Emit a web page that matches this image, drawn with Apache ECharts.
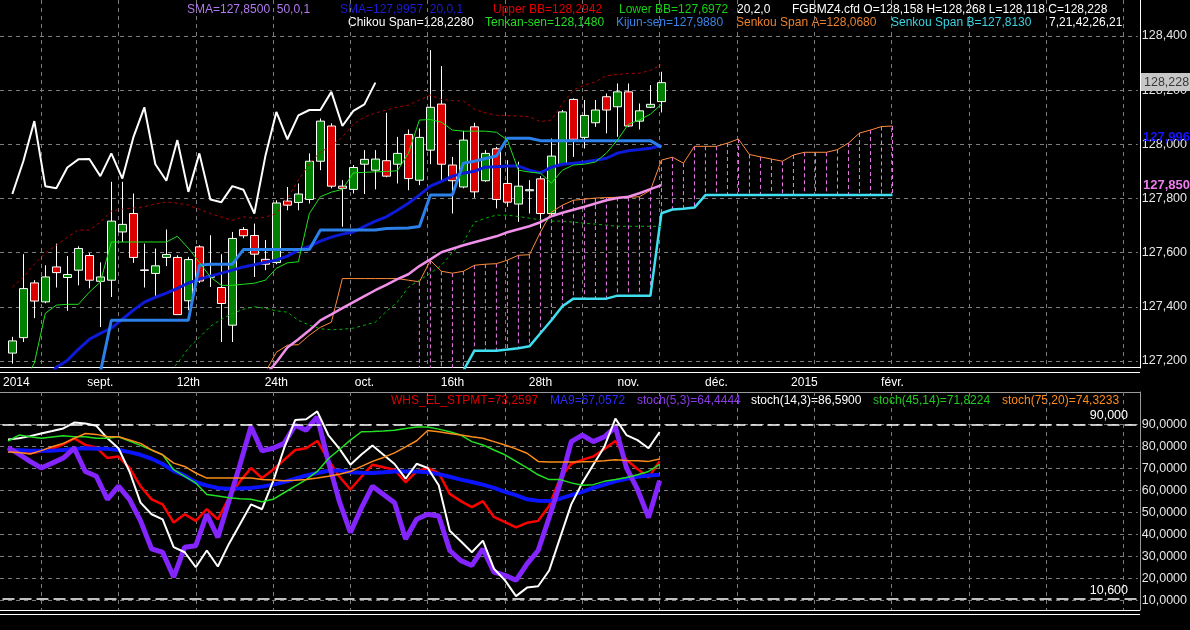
<!DOCTYPE html>
<html><head><meta charset="utf-8">
<script src="https://cdn.jsdelivr.net/npm/echarts@6.0.0/dist/echarts.min.js"></script>
<style>html,body{margin:0;padding:0;background:#000;}#c{width:1190px;height:630px;}</style>
</head><body><div id="c"></div>
<script>
// ---------------- DATA ----------------
const categories = Array.from({length: 103}, (_, i) => String(i + 1));
const tickIndex = [0, 8, 16, 24, 32, 40, 48, 56, 64, 72, 80];
const tickText = ['2014', 'sept.', '12th', '24th', 'oct.', '16th', '28th', 'nov.', 'déc.', '2015', 'févr.'];

const open = [127.230,127.287,127.489,127.419,127.548,127.509,127.536,127.590,127.495,127.499,
127.677,127.745,127.535,127.524,127.583,127.583,127.423,127.622,127.510,127.472,
127.333,127.686,127.664,127.576,127.564,127.791,127.786,127.797,127.938,128.068,
127.846,127.834,127.927,127.905,127.940,127.927,128.037,127.868,127.979,128.149,
127.924,127.843,128.065,127.866,127.984,127.856,127.780,127.829,127.873,127.745,
127.926,128.166,128.026,128.080,128.176,128.139,128.194,128.086,128.137,128.158];
const close = [127.275,127.468,127.422,127.511,127.527,127.520,127.616,127.499,127.511,127.717,
127.705,127.583,127.537,127.552,127.594,127.372,127.575,127.496,127.514,127.413,
127.653,127.663,127.595,127.558,127.784,127.776,127.817,127.938,128.086,127.846,
127.838,127.915,127.945,127.946,127.883,127.967,127.874,128.026,128.137,127.927,
127.866,128.016,127.825,127.967,127.797,127.787,127.846,127.833,127.745,127.957,
128.120,128.019,128.107,128.127,128.127,128.194,128.068,128.124,128.148,128.228];
const high = [127.290,127.595,127.499,127.554,127.634,127.588,127.624,127.599,127.565,127.862,
127.862,127.819,127.634,127.616,127.686,127.591,127.585,127.628,127.665,127.595,
127.677,127.695,127.708,127.647,127.794,127.843,127.856,127.967,128.096,128.078,
127.868,127.924,127.979,127.979,128.117,128.028,128.055,128.059,128.348,128.289,
127.954,128.050,128.080,127.979,127.991,127.942,127.936,127.868,127.883,128.022,
128.127,128.170,128.164,128.164,128.188,128.225,128.225,128.151,128.219,128.268];
const low = [127.191,127.271,127.359,127.414,127.472,127.386,127.480,127.469,127.326,127.437,
127.640,127.563,127.472,127.437,127.551,127.372,127.388,127.489,127.474,127.271,
127.271,127.654,127.511,127.536,127.558,127.757,127.757,127.782,127.905,127.838,
127.696,127.819,127.817,127.834,127.879,127.856,127.831,127.850,127.927,127.868,
127.745,127.838,127.803,127.862,127.764,127.770,127.714,127.745,127.690,127.739,
127.924,127.954,127.985,128.065,128.041,128.028,128.064,128.055,128.134,128.118];

const tenkan = [127.10,127.12,127.193,127.377,127.407,127.410,127.410,127.455,127.492,127.640,
127.640,127.640,127.640,127.640,127.640,127.661,127.617,127.565,127.511,127.480,
127.480,127.484,127.488,127.499,127.543,127.563,127.567,127.745,127.807,127.824,
127.834,127.895,127.897,127.899,127.900,127.903,127.967,128.090,128.092,128.082,
128.053,128.049,128.049,128.049,128.045,128.016,127.905,127.898,127.894,127.857,
127.905,127.924,127.927,127.935,127.968,128.016,128.075,128.090,128.112,128.148];
const kijun = [null,null,null,null,null,null,null,null,127.159,127.351,
127.351,127.351,127.351,127.351,127.351,127.351,127.351,127.554,127.558,127.558,
127.558,127.612,127.612,127.612,127.612,127.612,127.612,127.612,127.684,127.684,
127.684,127.684,127.684,127.684,127.690,127.691,127.692,127.697,127.813,127.813,
127.813,127.931,127.938,127.948,127.957,128.023,128.023,128.023,128.014,128.014,
128.014,128.014,128.014,128.014,128.014,128.014,128.014,128.014,128.014,127.990];
const sma20 = [null,null,null,127.130,127.178,127.203,127.244,127.281,127.303,127.322,
127.355,127.388,127.418,127.436,127.451,127.469,127.488,127.503,127.514,127.525,
127.536,127.548,127.556,127.565,127.573,127.588,127.610,127.624,127.643,127.658,
127.669,127.677,127.698,127.717,127.733,127.757,127.783,127.813,127.846,127.864,
127.883,127.894,127.901,127.916,127.918,127.920,127.920,127.905,127.895,127.916,
127.927,127.931,127.935,127.942,127.949,127.968,127.977,127.981,127.986,127.996];
const sma50 = [null,null,null,null,null,null,null,null,null,null,
null,null,null,null,null,null,null,null,null,null,
null,null,null,127.148,127.196,127.251,127.281,127.314,127.351,127.373,
127.396,127.418,127.440,127.462,127.482,127.503,127.521,127.551,127.576,127.602,
127.615,127.628,127.639,127.650,127.661,127.676,127.687,127.698,127.713,127.735,
127.748,127.759,127.770,127.782,127.794,127.802,127.807,127.820,127.835,127.850];
const upperBB = [127.473,127.510,127.558,127.599,127.628,127.658,127.684,127.684,127.713,127.754,
127.761,127.765,127.770,127.780,127.788,127.783,127.776,127.761,127.745,127.732,
127.720,127.733,127.728,127.732,127.745,127.802,127.868,127.930,127.972,127.994,
128.027,128.075,128.101,128.116,128.127,128.138,128.145,128.164,128.182,128.166,
128.162,128.160,128.130,128.116,128.108,128.106,128.105,128.102,128.084,128.090,
128.151,128.201,128.219,128.231,128.254,128.258,128.262,128.263,128.273,128.294];
const lowerBB = [null,null,null,null,null,null,null,null,null,null,
null,null,null,null,127.150,127.192,127.248,127.288,127.329,127.355,
127.376,127.392,127.401,127.395,127.386,127.381,127.351,127.333,127.320,127.316,
127.318,127.322,127.333,127.344,127.384,127.418,127.473,127.499,127.525,127.554,
127.602,127.639,127.713,127.728,127.739,127.739,127.734,127.728,127.722,127.717,
127.717,127.713,127.709,127.706,127.702,127.698,127.698,127.698,127.698,127.697];
const senkouA = [null,null,null,null,null,null,null,null,null,null,
null,null,null,null,null,null,null,null,null,null,
null,null,null,127.159,127.233,127.259,127.261,127.296,127.325,127.344,
127.505,127.505,127.505,127.505,127.505,127.505,127.499,127.493,127.572,127.532,
127.525,127.532,127.554,127.558,127.560,127.573,127.591,127.593,127.676,127.750,
127.776,127.794,127.798,127.802,127.804,127.805,127.805,127.807,127.831,127.942,
127.953,127.931,127.993,127.993,127.993,128.005,128.020,127.963,127.954,127.946,
127.938,127.961,127.971,127.971,127.971,127.981,128.005,128.042,128.053,128.066,
128.068];
const senkouB = [null,null,null,null,null,null,null,null,null,null,
null,null,null,null,null,null,null,null,null,null,
null,null,null,null,null,null,null,null,null,null,
null,null,null,null,null,null,null,127.100,127.100,127.100,
127.110,127.165,127.239,127.239,127.239,127.243,127.248,127.255,127.303,127.351,
127.403,127.431,127.431,127.431,127.431,127.442,127.442,127.442,127.442,127.746,
127.760,127.763,127.767,127.813,127.813,127.813,127.813,127.813,127.813,127.813,
127.813,127.813,127.813,127.813,127.813,127.813,127.813,127.813,127.813,127.813,
127.813];
const chikou = close.slice(26);   // Chikou span = close plotted 26 bars back

const whs = [78.9,78.4,76.9,77.7,79.0,81.0,83.7,80.7,79.5,74.7,
75.4,70.2,61.9,55.9,53.6,45.3,49.1,46.1,51.4,46.8,
56.6,64.1,70.2,65.6,69.4,73.9,78.4,79.2,82.5,73.9,
66.3,60.4,66.2,71.7,70.5,69.4,63.7,68.6,70.2,67.9,
58.4,55.1,52.4,55.1,47.9,45.5,43.1,45.2,46.1,52.9,
65.6,72.1,73.9,75.4,78.9,82.5,73.9,69.7,65.9,73.26];
const ma9 = [78.0,78.3,78.1,78.0,78.1,78.4,79.0,79.2,79.0,78.9,
78.4,77.4,76.2,74.4,72.0,68.9,66.7,63.7,62.2,61.1,
60.7,60.8,61.1,61.7,62.6,63.8,65.3,66.8,67.9,68.9,
69.1,68.2,68.0,67.9,68.2,68.6,68.6,68.6,68.2,67.4,
66.2,64.9,63.8,62.6,61.1,59.3,57.8,55.9,55.3,55.1,
56.2,57.8,59.3,61.1,62.6,64.1,65.3,66.2,66.8,67.06];
const stoch5 = [79.5,76.5,73.2,70.2,72.4,74.7,79.2,68.6,66.4,55.9,
61.9,55.9,46.1,33.3,31.8,20.5,34.1,34.8,49.1,38.6,
55.1,71.7,89.0,78.0,79.2,81.4,89.7,87.4,93.5,73.2,
55.0,40.8,52.0,61.9,58.1,54.4,37.8,46.8,49.1,48.3,
32.6,28.0,25.8,33.3,22.8,21.3,19.0,26.5,32.6,47.6,
63.4,82.2,85.2,82.2,84.4,88.9,70.2,60.4,47.6,64.44];
const stoch14 = [83.2,83.7,84.7,85.9,87.0,88.2,90.9,90.5,89.4,83.7,
79.2,68.6,54.4,49.1,46.8,34.1,31.8,25.0,32.6,25.3,
35.6,44.6,53.6,51.4,64.1,79.2,92.0,92.4,96.0,85.2,
79.0,71.7,76.3,80.4,76.2,72.0,65.3,72.1,70.2,62.3,
41.6,36.8,31.8,37.1,24.3,19.0,11.8,15.7,16.3,23.5,
38.6,53.6,63.4,71.7,79.9,92.7,85.2,82.9,79.2,86.59];
const stoch45 = [82.5,85.2,84.4,83.7,84.3,84.9,84.4,84.4,83.7,83.7,
84.4,82.5,80.5,78.4,76.2,69.4,66.4,63.4,58.1,57.4,
56.6,56.2,55.9,54.8,55.9,58.9,61.9,64.9,68.6,74.4,
78.6,82.9,86.7,86.8,87.0,87.4,88.2,88.9,88.9,87.9,
86.7,85.2,82.2,80.7,78.4,76.2,73.2,70.2,67.1,64.9,
64.9,63.4,62.3,62.6,64.1,64.9,65.9,67.1,68.6,71.82];
const stoch75 = [77.5,77.2,76.6,78.1,79.9,81.4,83.7,85.9,85.5,84.4,
84.4,82.9,81.4,78.4,76.2,72.4,70.9,67.9,65.6,65.6,
65.6,65.6,65.6,64.9,64.7,64.4,64.6,64.9,65.6,66.4,
67.3,68.6,70.9,73.2,75.0,77.1,79.8,82.6,87.3,86.7,
85.9,85.2,84.4,83.7,82.2,80.7,78.9,76.9,73.2,72.9,
72.9,72.9,73.0,73.2,73.5,73.9,73.6,73.5,73.2,74.32];
const levels = [90, 10.6];

// ---------------- LAYOUT / STYLE ----------------
const FONT = '"Liberation Sans", Arial, sans-serif';
const PLOT_L = 2.5, PLOT_W = 1137.5;
const BAR = PLOT_W / categories.length;
const VG_L = PLOT_L + BAR * 3.5, VG_W = BAR * 98;
const fmt3 = v => v.toFixed(3).replace('.', ',');
const fmt4 = v => v.toFixed(4).replace('.', ',');
const GRID_LINE = {show: true, lineStyle: {color: '#7c7c7c', type: [4, 4], width: 1}};

const legendItems = [
  ['SMA=127,8500  50,0,1', 187, 10, '#b27af0'],
  ['SMA=127,9957  20,0,1', 340, 10, '#1c1cd4'],
  ['Upper BB=128,2942', 493, 10, '#e00000'],
  ['Lower BB=127,6972', 619, 10, '#14d014'],
  ['20,2,0', 737, 10, '#ffffff'],
  ['FGBMZ4.cfd O=128,158 H=128,268 L=128,118 C=128,228', 792, 10, '#ffffff'],
  ['Chikou Span=128,2280', 348, 23, '#ffffff'],
  ['Tenkan-sen=128,1480', 485, 23, '#22dd22'],
  ['Kijun-sen=127,9880', 616, 23, '#3a82e6'],
  ['Senkou Span A=128,0680', 736, 23, '#e8802e'],
  ['Senkou Span B=127,8130', 891, 23, '#3cd2e0'],
  ['7,21,42,26,21', 1049, 23, '#ffffff'],
  ['WHS_EL_STPMT=73,2597', 391, 401, '#e00000'],
  ['MA9=67,0572', 550, 401, '#2a2aff'],
  ['stoch(5,3)=64,4444', 637, 401, '#8a3ae6'],
  ['stoch(14,3)=86,5900', 751, 401, '#ffffff'],
  ['stoch(45,14)=71,8224', 873, 401, '#22c822'],
  ['stoch(75,20)=74,3233', 1002, 401, '#ff8c1e']
];

const hatch = [];
senkouA.forEach((a, i) => { if (a != null && senkouB[i] != null) hatch.push([i, a, senkouB[i]]); });

function lineSeries(name, data, color, width, xi, extra) {
  return Object.assign({
    name, type: 'line', data, xAxisIndex: xi, yAxisIndex: xi,
    symbol: 'none', showSymbol: false, clip: true, animation: false, silent: true,
    lineStyle: {color, width}
  }, extra || {});
}

// value tags drawn at the right end of the price axis (through the library's scale)
function valueTag(value, label) {
  return {
    name: 'tag', type: 'line', xAxisIndex: 0, yAxisIndex: 0, data: [], clip: false, silent: true,
    markLine: {
      silent: true, symbol: 'none', animation: false,
      lineStyle: {color: 'rgba(0,0,0,0)', width: 0},
      label: Object.assign({position: 'end', formatter: fmt3(value), fontFamily: FONT, opacity: 1}, label),
      data: [{yAxis: value}]
    }
  };
}

const hLine = (y, color) => ({type: 'line', silent: true, shape: {x1: 0, y1: y, x2: 1140, y2: y}, style: {stroke: color, lineWidth: 1}});

const option = {
  backgroundColor: '#000',
  animation: false,
  textStyle: {fontFamily: FONT},
  grid: [
    {left: PLOT_L, top: 0, width: PLOT_W, height: 368},
    {left: 0, top: 36, width: 1140, height: 325},
    {left: VG_L, top: 0, width: VG_W, height: 368},
    {left: PLOT_L, top: 392, width: PLOT_W, height: 218},
    {left: 0, top: 424.5, width: 1140, height: 175.6},
    {left: VG_L, top: 392, width: VG_W, height: 218}
  ],
  xAxis: [
    {gridIndex: 0, type: 'category', data: categories, boundaryGap: true,
     axisLine: {show: false}, axisTick: {show: false}, splitLine: {show: false},
     axisLabel: {
       interval: (idx) => tickIndex.includes(idx),
       formatter: (v, idx) => { const k = tickIndex.indexOf(idx); if (k < 0) return ''; return k === 0 ? '{f|' + tickText[k] + '}' : tickText[k]; },
       color: '#ffffff', fontSize: 12, margin: 9, fontFamily: FONT,
       rich: {f: {padding: [0, 0, 0, 8], color: '#ffffff', fontSize: 12, fontFamily: FONT}}
     }},
    {gridIndex: 1, type: 'value', show: false},
    {gridIndex: 2, type: 'value', min: 0, max: 98, interval: 7,
     axisLine: {show: false}, axisTick: {show: false}, axisLabel: {show: false}, splitLine: GRID_LINE},
    {gridIndex: 3, type: 'category', data: categories, boundaryGap: true,
     axisLine: {show: false}, axisTick: {show: false}, axisLabel: {show: false}, splitLine: {show: false}},
    {gridIndex: 4, type: 'value', show: false},
    {gridIndex: 5, type: 'value', min: 0, max: 98, interval: 7,
     axisLine: {show: false}, axisTick: {show: false}, axisLabel: {show: false}, splitLine: GRID_LINE}
  ],
  yAxis: [
    {gridIndex: 0, type: 'value', min: 127.175, max: 128.533, position: 'right',
     axisLine: {show: true, lineStyle: {color: '#ffffff', width: 1}}, axisTick: {show: false},
     axisLabel: {show: false}, splitLine: {show: false}},
    {gridIndex: 1, type: 'value', min: 127.2, max: 128.4, interval: 0.2, position: 'right',
     axisLine: {show: false}, axisTick: {show: false}, splitLine: GRID_LINE,
     axisLabel: {formatter: fmt3, color: '#e6e6e6', fontSize: 12.5, margin: 4, fontFamily: FONT}},
    {gridIndex: 2, type: 'value', show: false, min: 0, max: 1},
    {gridIndex: 3, type: 'value', min: 5.49, max: 104.81, position: 'right',
     axisLine: {show: true, lineStyle: {color: '#9a9a9a', width: 1}}, axisTick: {show: false},
     axisLabel: {show: false}, splitLine: {show: false}},
    {gridIndex: 4, type: 'value', min: 10, max: 90, interval: 10, position: 'right',
     axisLine: {show: false}, axisTick: {show: false}, splitLine: GRID_LINE,
     axisLabel: {formatter: fmt4, color: '#e6e6e6', fontSize: 12.5, margin: 4, fontFamily: FONT}},
    {gridIndex: 5, type: 'value', show: false, min: 0, max: 1}
  ],
  series: [
    {
      name: 'price', type: 'candlestick', xAxisIndex: 0, yAxisIndex: 0, barWidth: 9, silent: true,
      data: open.map((o, i) => [o, close[i], low[i], high[i]]),
      itemStyle: {color: '#008000', color0: '#dd0000', borderColor: '#ffffff', borderColor0: '#ffffff', borderWidth: 1}
    },
    {
      name: 'kumo', type: 'custom', xAxisIndex: 0, yAxisIndex: 0, clip: true, silent: true,
      data: hatch, encode: {x: 0, y: [1, 2]},
      renderItem: (params, api) => {
        const p1 = api.coord([api.value(0), api.value(1)]);
        const p2 = api.coord([api.value(0), api.value(2)]);
        return {type: 'line', shape: {x1: p1[0], y1: p1[1], x2: p2[0], y2: p2[1]},
                style: {stroke: '#f07cf0', lineWidth: 1, lineDash: [4, 3]}};
      }
    },
    lineSeries('Senkou Span A', senkouA, '#ff8a3c', 1, 0),
    lineSeries('Senkou Span B', senkouB, '#40dff0', 2.5, 0),
    lineSeries('Upper BB', upperBB, '#b00000', 1, 0, {lineStyle: {color: '#b00000', width: 1, type: [3, 3]}}),
    lineSeries('Lower BB', lowerBB, '#00b400', 1, 0, {lineStyle: {color: '#00b400', width: 1, type: [3, 3]}}),
    lineSeries('SMA 50', sma50, '#f090e8', 2.5, 0),
    lineSeries('SMA 20', sma20, '#0d1ad8', 3, 0),
    lineSeries('Kijun-sen', kijun, '#2c80ea', 3, 0),
    lineSeries('Tenkan-sen', tenkan, '#1ee01e', 1, 0),
    lineSeries('Chikou Span', chikou, '#ffffff', 2, 0),
    valueTag(close[close.length - 1], {distance: 1, color: '#383838', backgroundColor: '#c6c6c6', padding: [3, 3, 2, 3], fontSize: 12.5}),
    valueTag(sma20[sma20.length - 1], {distance: 3, formatter: '{v|' + fmt3(sma20[sma20.length - 1]) + '}\n{s| }',
      rich: {v: {color: '#1414ff', fontWeight: 'bold', fontSize: 13, lineHeight: 14, fontFamily: FONT},
             s: {fontSize: 1, lineHeight: 14}}}),
    valueTag(sma50[sma50.length - 1], {distance: 3, color: '#f07cf0', fontWeight: 'bold', fontSize: 13}),

    lineSeries('WHS_EL_STPMT', whs, '#ff0000', 2.5, 3),
    lineSeries('MA9', ma9, '#0a14ff', 4, 3),
    lineSeries('stoch(5,3)', stoch5, '#8424ff', 5, 3),
    lineSeries('stoch(14,3)', stoch14, '#ffffff', 2, 3),
    lineSeries('stoch(45,14)', stoch45, '#22e022', 1.5, 3),
    lineSeries('stoch(75,20)', stoch75, '#ff8c1a', 1.5, 3, {markLine: {
      silent: true, symbol: 'none', animation: false,
      lineStyle: {color: '#ffffff', width: 1.5, type: [12, 5]},
      label: {position: 'insideEndTop', distance: [12, 2], formatter: p => fmt3(p.value), color: '#ffffff', fontSize: 12.5, fontFamily: FONT},
      data: levels.map(v => ({yAxis: v}))}})
  ],
  graphic: [
    ...legendItems.map(([t, x, y, c]) => ({type: 'text', x, y, silent: true,
      style: {text: t, fill: c, font: '12px ' + FONT, verticalAlign: 'middle', align: 'left'}})),
    hLine(367.5, '#ffffff'), hLine(372.5, '#ffffff'),
    hLine(392.5, '#9a9a9a'),
    hLine(610.5, '#ffffff'), hLine(614.5, '#ffffff')
  ]
};

const chart = echarts.init(document.getElementById('c'), null, {renderer: 'canvas'});
chart.setOption(option);
</script></body></html>
